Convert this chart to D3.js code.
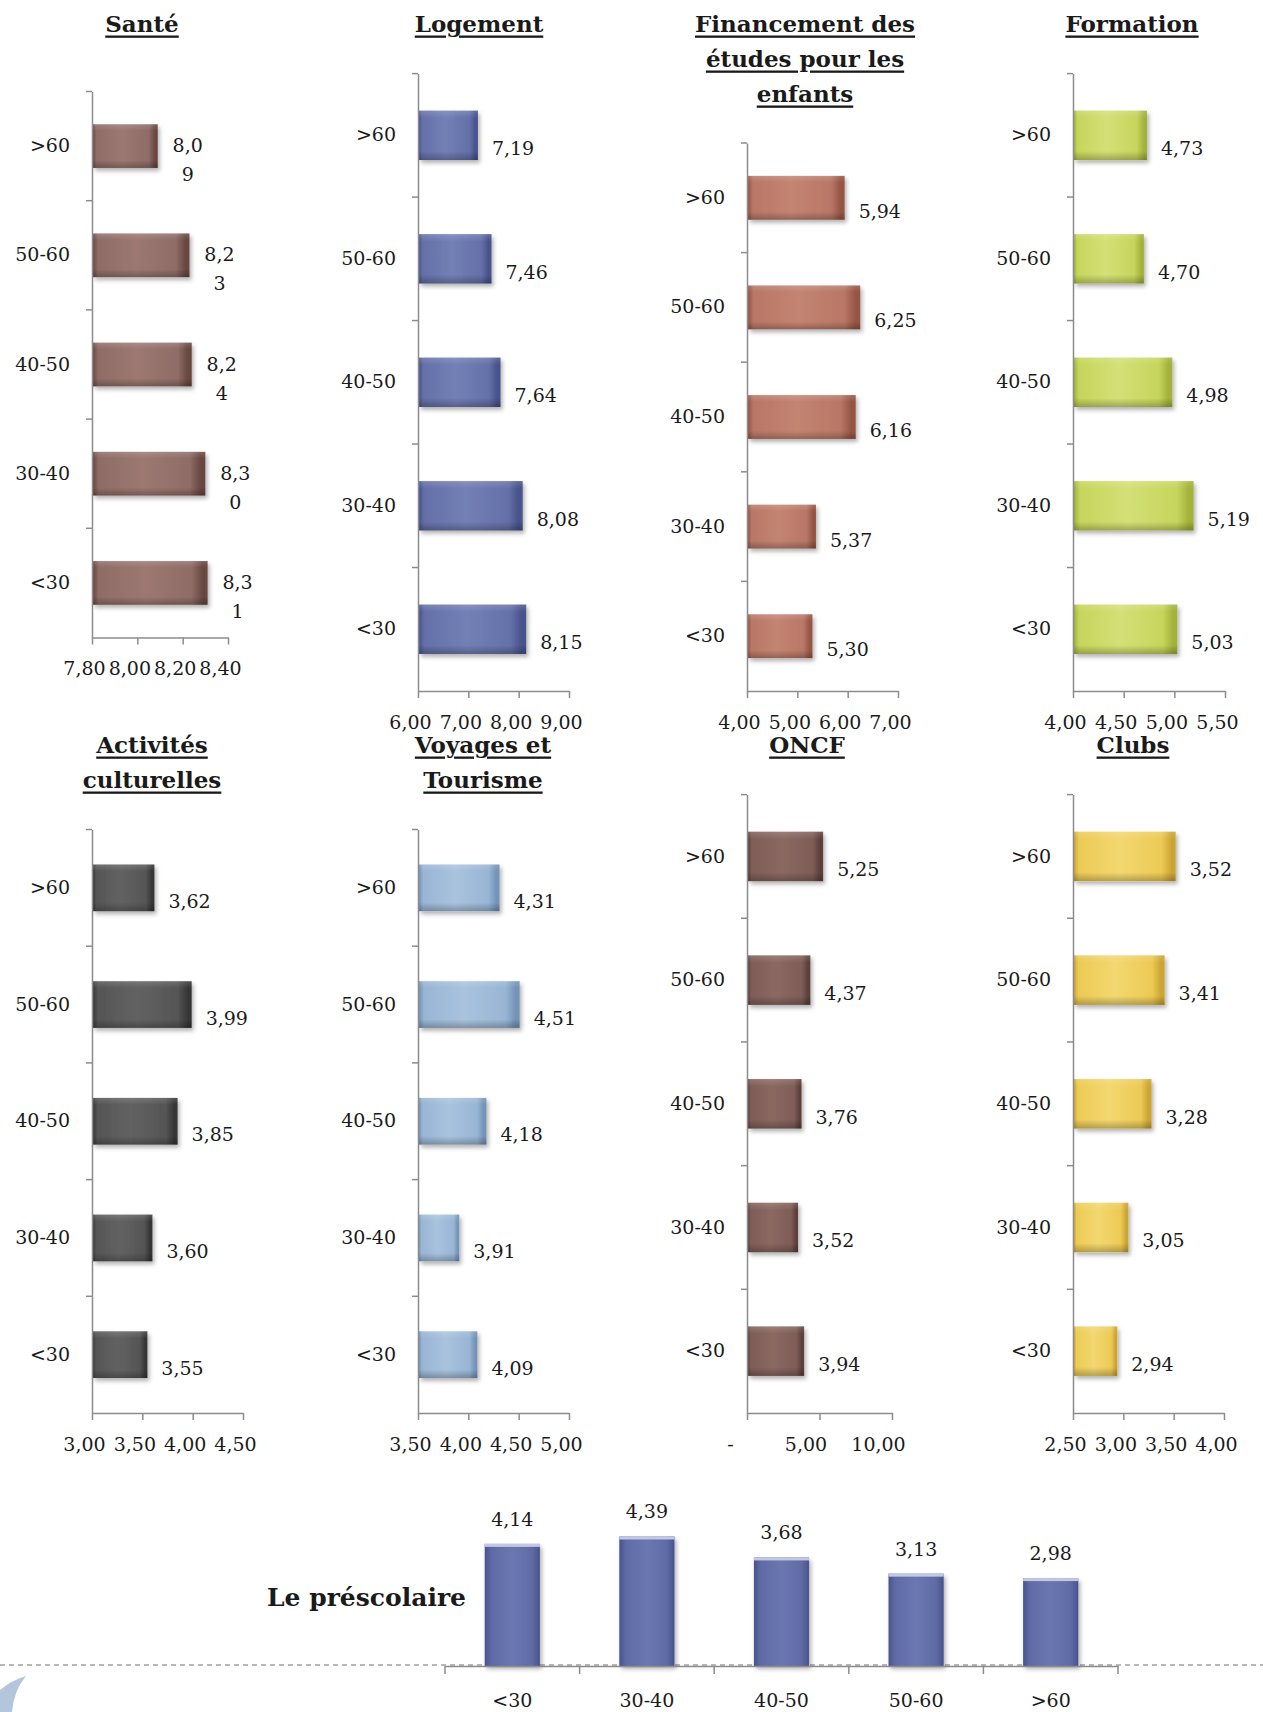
<!DOCTYPE html>
<html lang="fr">
<head>
<meta charset="utf-8">
<title>Indices par tranche d'âge</title>
<script src="https://cdn.jsdelivr.net/npm/d3@7"></script>
<style>
  body{margin:0;background:#ffffff;}
  svg text{font-family:"DejaVu Serif", serif; fill:#1a1a1a;}
</style>
</head>
<body>
<div id="chart"></div>
<script>
// ---- data ----
var ageGroups = [">60", "50-60", "40-50", "30-40", "<30"];

var santeValues       = [8.09, 8.23, 8.24, 8.30, 8.31];
var logementValues    = [7.19, 7.46, 7.64, 8.08, 8.15];
var financementValues = [5.94, 6.25, 6.16, 5.37, 5.30];
var formationValues   = [4.73, 4.70, 4.98, 5.19, 5.03];
var activitesValues   = [3.62, 3.99, 3.85, 3.60, 3.55];
var voyagesValues     = [4.31, 4.51, 4.18, 3.91, 4.09];
var oncfValues        = [5.25, 4.37, 3.76, 3.52, 3.94];
var clubsValues       = [3.52, 3.41, 3.28, 3.05, 2.94];

var santeTicks       = [7.8, 8.0, 8.2, 8.4];
var logementTicks    = [6, 7, 8, 9];
var financementTicks = [4, 5, 6, 7];
var formationTicks   = [4, 4.5, 5, 5.5];
var activitesTicks   = [3, 3.5, 4, 4.5];
var voyagesTicks     = [3.5, 4, 4.5, 5];
var oncfTicks        = [0, 5, 10];
var clubsTicks       = [2.5, 3, 3.5, 4];

var prescolaireGroups = ["<30", "30-40", "40-50", "50-60", ">60"];
var prescolaireValues = [4.14, 4.39, 3.68, 3.13, 2.98];

// ---- layout ----
var w = 1263, h = 1712;
var fr = d3.formatLocale({decimal: ",", thousands: " ", grouping: [3], currency: ["", ""]});
var fmt = fr.format(".2f");

var panels = [
  {title: ["Santé"], values: santeValues, ticks: santeTicks, left: 92, right: 228, top: 91.5, bottom: 637.5, tx: 142, ty: 23, wrap: true,
   col: ["#8f6c66", "#684741", "#9c7871"]},
  {title: ["Logement"], values: logementValues, ticks: logementTicks, left: 418, right: 569, top: 73.6, bottom: 691, tx: 479, ty: 23,
   col: ["#6470a8", "#47528b", "#7380b6"]},
  {title: ["Financement des", "études pour les", "enfants"], values: financementValues, ticks: financementTicks, left: 747, right: 898, top: 143, bottom: 691, tx: 805, ty: 23,
   col: ["#b87766", "#955444", "#c48472"]},
  {title: ["Formation"], values: formationValues, ticks: formationTicks, left: 1073, right: 1225, top: 73.6, bottom: 691, tx: 1132, ty: 23,
   col: ["#c6d55c", "#a2b23a", "#d4e076"]},
  {title: ["Activités", "culturelles"], values: activitesValues, ticks: activitesTicks, left: 92, right: 243, top: 829.5, bottom: 1413, tx: 152, ty: 744,
   col: ["#555555", "#363636", "#626262"]},
  {title: ["Voyages et", "Tourisme"], values: voyagesValues, ticks: voyagesTicks, left: 418, right: 569, top: 829.5, bottom: 1413, tx: 483, ty: 744,
   col: ["#98b5d4", "#7393b7", "#a9c3de"]},
  {title: ["ONCF"], values: oncfValues, ticks: oncfTicks, left: 747, right: 892, top: 794.6, bottom: 1413, tx: 807, ty: 744, shift: -14,
   col: ["#7f5d57", "#5c3f3a", "#8b6962"]},
  {title: ["Clubs"], values: clubsValues, ticks: clubsTicks, left: 1073, right: 1224, top: 794.6, bottom: 1413, tx: 1133, ty: 744,
   col: ["#ecca55", "#cba533", "#f3d770"]}
];

var svg = d3.select("#chart").append("svg")
  .attr("width", w).attr("height", h);

var defs = svg.append("defs");

var shadow = defs.append("filter").attr("id", "shadow")
  .attr("x", "-10%").attr("y", "-20%").attr("width", "130%").attr("height", "160%");
shadow.append("feDropShadow").attr("dx", 2).attr("dy", 3).attr("stdDeviation", 2)
  .attr("flood-color", "#000").attr("flood-opacity", 0.3);

// soft top/bottom shading shared by all horizontal bars
var overlay = defs.append("linearGradient").attr("id", "hshade")
  .attr("x1", 0).attr("y1", 0).attr("x2", 0).attr("y2", 1);
overlay.append("stop").attr("offset", "0%").attr("stop-color", "#fff").attr("stop-opacity", 0.15);
overlay.append("stop").attr("offset", "15%").attr("stop-color", "#fff").attr("stop-opacity", 0);
overlay.append("stop").attr("offset", "82%").attr("stop-color", "#000").attr("stop-opacity", 0);
overlay.append("stop").attr("offset", "100%").attr("stop-color", "#000").attr("stop-opacity", 0.25);

function makeGrad(id, col){
  var g = defs.append("linearGradient").attr("id", id)
    .attr("x1", 0).attr("y1", 0).attr("x2", 1).attr("y2", 0);
  [[0, col[1]], [5, col[0]], [45, col[2]], [86, col[0]], [96, col[1]], [100, col[1]]].forEach(function(s){
    g.append("stop").attr("offset", s[0] + "%").attr("stop-color", s[1]);
  });
}

var axisColor = "#8c8c8c";

function drawPanel(p, i){
  var g = svg.append("g").attr("class", "panel");
  makeGrad("grad" + i, p.col);

  var x = d3.scaleLinear()
    .domain([p.ticks[0], p.ticks[p.ticks.length - 1]])
    .range([p.left, p.right]);
  var y = d3.scaleBand()
    .domain(ageGroups)
    .range([p.top, p.bottom])
    .paddingInner(0.6).paddingOuter(0.3);

  // title
  var t = g.append("text")
    .attr("x", p.tx)
    .attr("text-anchor", "middle")
    .attr("font-size", "23px")
    .attr("font-weight", "bold")
    .attr("text-decoration", "underline");
  p.title.forEach(function(line, k){
    t.append("tspan").attr("x", p.tx).attr("y", p.ty + k * 35)
      .attr("dominant-baseline", "central").text(line);
  });

  var data = ageGroups.map(function(a, k){ return {age: a, v: p.values[k]}; });

  // bars
  var bars = g.selectAll(".bar").data(data).enter().append("g").attr("class", "bar");
  bars.append("rect")
    .attr("x", x(p.ticks[0]) + 1)
    .attr("y", function(d){ return y(d.age); })
    .attr("width", function(d){ return x(d.v) - x(p.ticks[0]) - 1; })
    .attr("height", y.bandwidth())
    .attr("fill", "url(#grad" + i + ")")
    .attr("filter", "url(#shadow)");
  bars.append("rect")
    .attr("x", x(p.ticks[0]) + 1)
    .attr("y", function(d){ return y(d.age); })
    .attr("width", function(d){ return x(d.v) - x(p.ticks[0]) - 1; })
    .attr("height", y.bandwidth())
    .attr("fill", "url(#hshade)");

  // value labels
  bars.each(function(d){
    var c = y(d.age) + y.bandwidth() / 2;
    var s = fmt(d.v);
    if(p.wrap){
      var tt = d3.select(this).append("text")
        .attr("text-anchor", "middle").attr("font-size", "19px");
      tt.append("tspan").attr("x", x(d.v) + 30).attr("y", c - 1)
        .attr("dominant-baseline", "central").text(s.slice(0, 3));
      tt.append("tspan").attr("x", x(d.v) + 30).attr("y", c + 28)
        .attr("dominant-baseline", "central").text(s.slice(3));
    }else{
      d3.select(this).append("text")
        .attr("x", x(d.v) + 14).attr("y", c + 13)
        .attr("dominant-baseline", "central")
        .attr("font-size", "19px")
        .text(s);
    }
  });

  // y axis (category labels)
  var ya = g.append("g").attr("transform", "translate(" + p.left + ",0)")
    .call(d3.axisLeft(y).tickSize(0).tickPadding(22));
  ya.select(".domain").attr("stroke", axisColor).attr("stroke-width", 1.5);
  ya.selectAll("text").attr("font-size", "19px").attr("font-family", "DejaVu Serif, serif").attr("fill", "#1a1a1a");

  // tick marks between categories
  var bounds = d3.range(ageGroups.length + 1).map(function(k){ return y.range()[0] + k * y.step(); });
  g.selectAll(".sep").data(bounds.slice(0, -1)).enter().append("line")
    .attr("x1", p.left - 6).attr("x2", p.left)
    .attr("y1", function(d){ return d; }).attr("y2", function(d){ return d; })
    .attr("stroke", axisColor).attr("stroke-width", 1.5);

  // x axis
  var shift = p.shift || -8;
  var xa = g.append("g").attr("transform", "translate(0," + p.bottom + ")")
    .call(d3.axisBottom(x).tickValues(p.ticks).tickSize(7).tickSizeOuter(0)
      .tickFormat(function(v){ return v === 0 ? "-" : fmt(v); }));
  xa.select(".domain").attr("stroke", axisColor).attr("stroke-width", 1.5);
  xa.selectAll(".tick line").attr("stroke", axisColor).attr("stroke-width", 1.5);
  xa.selectAll("text")
    .attr("font-size", "19px").attr("font-family", "DejaVu Serif, serif").attr("fill", "#1a1a1a")
    .attr("y", 31).attr("dy", "0.35em")
    .attr("dx", function(v){ return v === 0 ? -17 : shift; });
}

panels.forEach(drawPanel);

// ---- bottom chart: le préscolaire ----
var base = 1666;
var bx = d3.scaleBand().domain(prescolaireGroups).range([445, 1118])
  .paddingInner(0.59).paddingOuter(0.295);
var by = d3.scaleLinear().domain([0, 5]).range([base, base - 147.5]);

var vg = defs.append("linearGradient").attr("id", "vgrad")
  .attr("x1", 0).attr("y1", 0).attr("x2", 1).attr("y2", 0);
[[0, "#48538c"], [12, "#5f6ba5"], [50, "#6b77b0"], [86, "#5f6ba5"], [100, "#48538c"]].forEach(function(s){
  vg.append("stop").attr("offset", s[0] + "%").attr("stop-color", s[1]);
});

// dashed separator across the page
svg.append("line")
  .attr("x1", 0).attr("x2", w).attr("y1", base - 1).attr("y2", base - 1)
  .attr("stroke", "#a0a0a0").attr("stroke-width", 1.5).attr("stroke-dasharray", "5,4");

var pre = prescolaireGroups.map(function(gname, k){ return {age: gname, v: prescolaireValues[k]}; });

var vb = svg.selectAll(".vbar").data(pre).enter().append("g").attr("class", "vbar");
vb.append("rect")
  .attr("x", function(d){ return bx(d.age); })
  .attr("y", function(d){ return by(d.v); })
  .attr("width", bx.bandwidth())
  .attr("height", function(d){ return by(0) - by(d.v); })
  .attr("fill", "url(#vgrad)")
  .attr("filter", "url(#shadow)");
// thin light cap on top of each column
vb.append("rect")
  .attr("x", function(d){ return bx(d.age); })
  .attr("y", function(d){ return by(d.v); })
  .attr("width", bx.bandwidth())
  .attr("height", 3)
  .attr("fill", "#c3c8e2");
vb.append("text")
  .attr("x", function(d){ return bx(d.age) + bx.bandwidth() / 2; })
  .attr("y", function(d){ return by(d.v) - 25; })
  .attr("text-anchor", "middle")
  .attr("dominant-baseline", "central")
  .attr("font-size", "19px")
  .text(function(d){ return fmt(d.v); });

var pa = svg.append("g").attr("transform", "translate(0," + base + ")")
  .call(d3.axisBottom(bx).tickSize(0).tickSizeOuter(0));
pa.select(".domain").attr("stroke", axisColor).attr("stroke-width", 1.5);
pa.selectAll("text")
  .attr("font-size", "19px").attr("font-family", "DejaVu Serif, serif").attr("fill", "#1a1a1a")
  .attr("y", 34).attr("dy", "0.35em");

var pbounds = d3.range(prescolaireGroups.length + 1).map(function(k){ return bx.range()[0] + k * bx.step(); });
svg.selectAll(".psep").data(pbounds).enter().append("line")
  .attr("x1", function(d){ return d; }).attr("x2", function(d){ return d; })
  .attr("y1", base).attr("y2", base + 8)
  .attr("stroke", axisColor).attr("stroke-width", 1.5);

svg.append("text")
  .attr("x", 466).attr("y", 1597)
  .attr("text-anchor", "end")
  .attr("dominant-baseline", "central")
  .attr("font-size", "25px")
  .attr("font-weight", "bold")
  .text("Le préscolaire");

// slide decoration, bottom-left corner
svg.append("path")
  .attr("d", "M0,1712 L0,1690 Q12,1680 26,1676 Q14,1690 12,1712 Z")
  .attr("fill", "#b4c6dc");
</script>
</body>
</html>
